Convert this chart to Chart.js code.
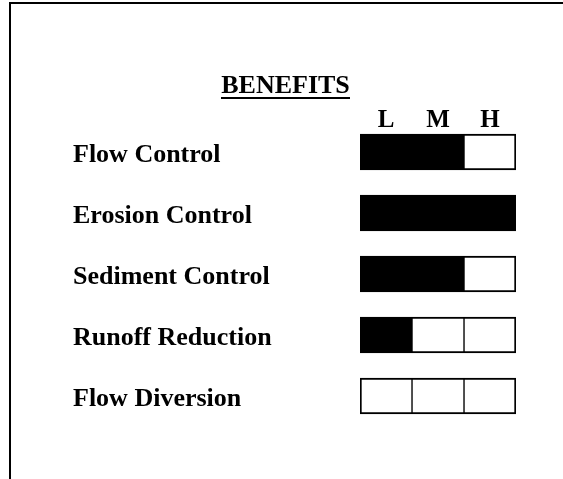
<!DOCTYPE html>
<html>
<head>
<meta charset="utf-8">
<script src="https://cdn.jsdelivr.net/npm/chart.js@4/dist/chart.umd.min.js"></script>
<style>
  html, body { margin: 0; background: #fff; }
  canvas { display: block; }
</style>
</head>
<body>
<canvas id="chart" width="563" height="479"></canvas>
<script>
const title = "BENEFITS"
const benefits = ["Flow Control", "Erosion Control", "Sediment Control", "Runoff Reduction", "Flow Diversion"]
const levels = ["L", "M", "H"]
// how many of the L/M/H cells are filled for each benefit
const ratings = [2, 3, 2, 1, 0]

const serif = "'Liberation Serif', 'Times New Roman', serif"

// each level is one cell wide, stacked left to right
const datasets = levels.map((level, k) => ({
  label: level,
  data: benefits.map(() => 1),
  backgroundColor: ratings.map(r => (r > k ? "#000" : "#fff")),
  borderColor: "#000",
  borderWidth: {top: 2, bottom: 2, left: k === 0 ? 2 : 1, right: k === levels.length - 1 ? 2 : 1},
  borderSkipped: false,
  barThickness: 36
}))

const sheetText = {
  id: "sheetText",
  afterDraw(chart) {
    const {ctx, scales: {x, y}} = chart
    ctx.save()
    ctx.fillStyle = "#000"
    ctx.strokeStyle = "#000"

    // page frame (top and left edge)
    ctx.lineWidth = 2
    ctx.beginPath()
    ctx.moveTo(10, 479)
    ctx.lineTo(10, 3)
    ctx.lineTo(563, 3)
    ctx.stroke()

    ctx.font = `bold 26px ${serif}`
    ctx.textBaseline = "alphabetic"

    // underlined title
    ctx.textAlign = "center"
    const tw = ctx.measureText(title).width
    ctx.fillText(title, 285.5, 93)
    ctx.fillRect(Math.round(285.5 - tw / 2), 97, Math.round(tw), 2)

    // level headers over each cell
    ctx.font = `bold 25px ${serif}`
    levels.forEach((level, k) => {
      ctx.fillText(level, x.getPixelForValue(k + 0.5), 127)
    })

    // benefit names
    ctx.font = `bold 26px ${serif}`
    ctx.textAlign = "left"
    benefits.forEach((name, i) => {
      ctx.fillText(name, 73, y.getPixelForValue(i) + 9.5)
    })
    ctx.restore()
  }
}

new Chart(document.getElementById("chart"), {
  type: "bar",
  data: {labels: benefits, datasets},
  options: {
    indexAxis: "y",
    responsive: false,
    animation: false,
    layout: {padding: {left: 360, right: 47, top: 121.5, bottom: 52.5}},
    scales: {
      x: {stacked: true, min: 0, max: levels.length, display: false},
      y: {stacked: true, display: false}
    },
    plugins: {legend: {display: false}, tooltip: {enabled: false}}
  },
  plugins: [sheetText]
})
</script>
</body>
</html>
